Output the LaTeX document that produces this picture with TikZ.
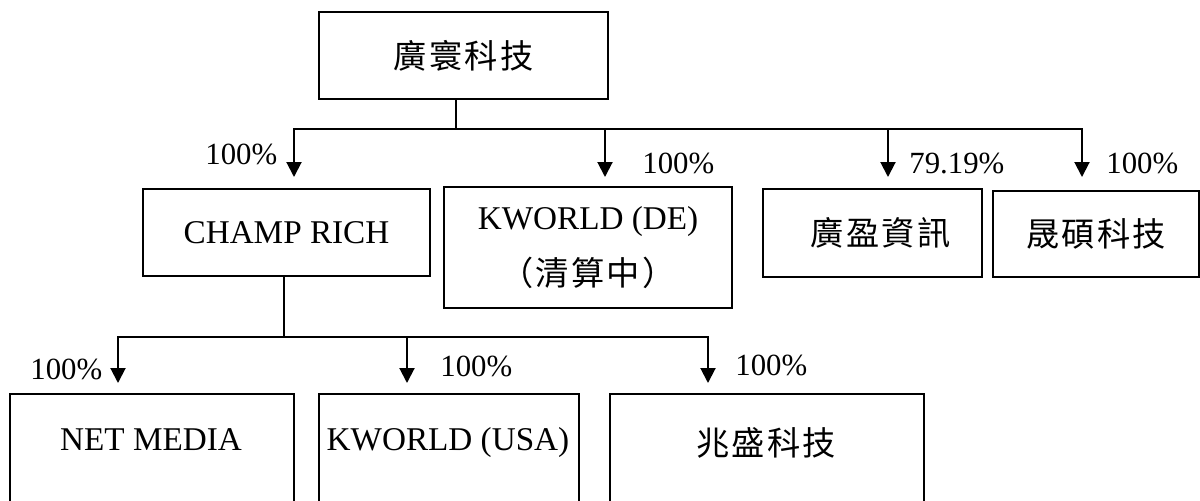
\documentclass[tikz,border=0pt]{standalone}
\usepackage{fontspec}
\setmainfont{Liberation Serif}
\newfontfamily\cjk[LetterSpace=7]{Noto Sans CJK TC}
\usetikzlibrary{arrows.meta}
\begin{document}
\begin{tikzpicture}[x=0.5pt,y=-0.5pt,
  box/.style={draw, line width=1pt, inner sep=0pt, anchor=north west, align=center,
    font=\fontsize{16.6}{19.9}\selectfont},
  lbl/.style={inner sep=0pt, anchor=base, font=\fontsize{16.6}{19.9}\selectfont},
  pct/.style={inner sep=0pt, anchor=base west, font=\fontsize{15.4}{18.5}\selectfont},
  conn/.style={line width=1pt},
  arr/.style={line width=1pt, -{Triangle[width=7.5pt,length=7.5pt]}}]
\clip (0,0) rectangle (1200,500);
% boxes
\node[box, minimum width=144.5pt, minimum height=43.5pt] (top) at (318,11) {\cjk 廣寰科技};
\node[box, minimum width=143.5pt, minimum height=43.5pt] (champ) at (142,188) {CHAMP RICH};
\node[box, minimum width=144pt, minimum height=60.5pt] (kde) at (443,186) {KWORLD (DE)\\[8pt]{\cjk （清算中）}};
\node[box, minimum width=109.5pt, minimum height=44pt] (gy) at (762,188) {\hspace*{8pt}\cjk 廣盈資訊};
\node[box, minimum width=103pt, minimum height=43pt] (ss) at (992,190) {\cjk 晟碩科技};
\node[box, minimum width=142pt, minimum height=63.5pt] (nm) at (9,393) {};
\node[box, minimum width=130pt, minimum height=63.5pt] (ku) at (318,393) {};
\node[box, minimum width=157pt, minimum height=63.5pt] (zs) at (609,393) {};
\node[lbl] (nmt) at (151,450) {NET MEDIA};
\node[lbl] (kut) at (448,450) {KWORLD (USA)};
\node[lbl] (zst) at (766,455.5) {\cjk 兆盛科技};
% upper connectors
\coordinate (b1) at (456,129);
\coordinate (t1) at (294,177);
\coordinate (t2) at (605,177);
\coordinate (t3) at (888,177);
\coordinate (t4) at (1082,177);
\draw[conn] (top.south -| b1) -- (b1);
\draw[arr] (b1) -| (t1);
\draw[arr] (b1) -| (t2);
\draw[arr] (b1) -| (t3);
\draw[arr] (b1) -| (t4);
% lower connectors
\coordinate (b2) at (284,337);
\coordinate (u1) at (118,383);
\coordinate (u2) at (407,383);
\coordinate (u3) at (708,383);
\draw[conn] (champ.south -| b2) -- (b2);
\draw[arr] (b2) -| (u1);
\draw[arr] (b2) -| (u2);
\draw[arr] (b2) -| (u3);
% percentages
\node[pct] (p1) at (205,164) {100\%};
\node[pct] (p2) at (642,173) {100\%};
\node[pct] (p3) at (909,173) {79.19\%};
\node[pct] (p4) at (1106,173) {100\%};
\node[pct] (p5) at (30,379) {100\%};
\node[pct] (p6) at (440,376) {100\%};
\node[pct] (p7) at (735,375) {100\%};
\end{tikzpicture}
\end{document}
